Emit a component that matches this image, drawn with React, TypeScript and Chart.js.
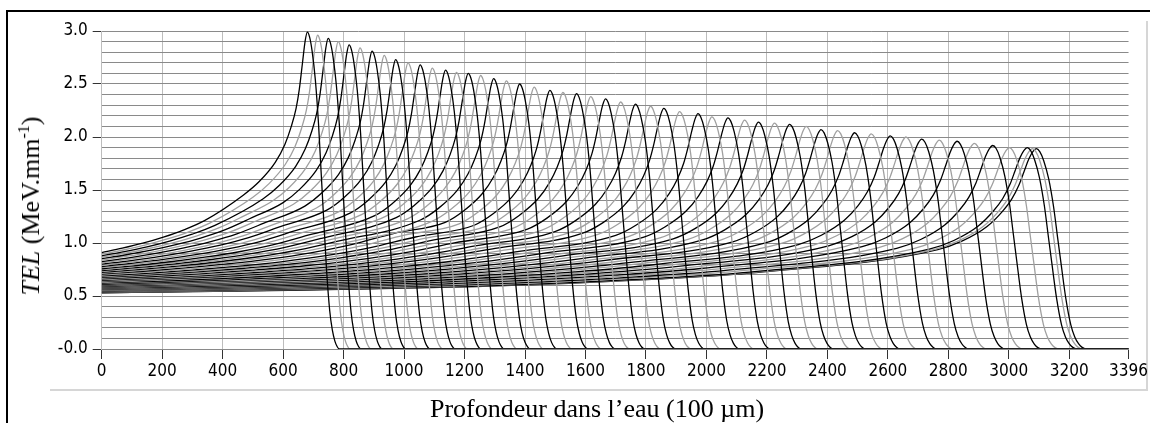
import React, { useEffect, useRef } from "react";
import { Chart, registerables } from "chart.js";

Chart.register(...registerables);

// Peak depth (100 µm units) of every TEL curve, in drawing order (black, grey, black, ...)
const PEAK_X = [680, 714, 749, 782, 818, 854, 894, 934, 972, 1013, 1053, 1093, 1137, 1173, 1212, 1253, 1296, 1338, 1382, 1430, 1482, 1525, 1570, 1617, 1666, 1716, 1765, 1815, 1859, 1911, 1972, 2018, 2071, 2126, 2172, 2225, 2275, 2330, 2379, 2434, 2490, 2545, 2608, 2660, 2712, 2770, 2829, 2886, 2947, 3002, 3061, 3078, 3091];
// Peak TEL value (MeV/mm)
const PEAK_Y = [2.99, 2.96, 2.93, 2.90, 2.87, 2.84, 2.81, 2.77, 2.73, 2.70, 2.68, 2.65, 2.63, 2.61, 2.60, 2.58, 2.55, 2.53, 2.50, 2.47, 2.44, 2.42, 2.41, 2.38, 2.36, 2.33, 2.31, 2.29, 2.27, 2.24, 2.22, 2.19, 2.18, 2.16, 2.14, 2.13, 2.12, 2.10, 2.07, 2.06, 2.04, 2.03, 2.01, 2.00, 1.98, 1.97, 1.96, 1.94, 1.92, 1.90, 1.90, 1.89, 1.89];
// TEL at the entrance (depth 0)
const ENTRY_Y = [0.910, 0.894, 0.879, 0.866, 0.852, 0.839, 0.825, 0.813, 0.801, 0.789, 0.778, 0.768, 0.757, 0.749, 0.740, 0.732, 0.723, 0.715, 0.707, 0.698, 0.689, 0.682, 0.675, 0.668, 0.661, 0.654, 0.647, 0.641, 0.636, 0.629, 0.622, 0.617, 0.611, 0.606, 0.601, 0.596, 0.591, 0.586, 0.582, 0.577, 0.572, 0.568, 0.563, 0.559, 0.555, 0.551, 0.547, 0.543, 0.539, 0.536, 0.532, 0.531, 0.530];
// Depth where each curve reaches zero
const ZERO_X = [786, 821, 857, 890, 927, 964, 1005, 1046, 1085, 1127, 1168, 1209, 1254, 1291, 1331, 1373, 1417, 1460, 1505, 1554, 1607, 1651, 1697, 1745, 1795, 1847, 1897, 1948, 1993, 2046, 2108, 2156, 2210, 2266, 2313, 2368, 2419, 2475, 2525, 2581, 2639, 2695, 2760, 2813, 2866, 2925, 2986, 3044, 3106, 3163, 3223, 3241, 3254];

const RISE_U = [0, 0.1, 0.2, 0.3, 0.4, 0.5, 0.6, 0.7, 0.8, 0.9];
const RISE_RATIO_SHALLOW = [1, 1.045, 1.097, 1.16, 1.236, 1.331, 1.457, 1.62, 1.9, 2.4];
const RISE_RATIO_DEEP = [1, 1.02, 1.045, 1.075, 1.11, 1.17, 1.25, 1.36, 1.49, 1.75];
const PEAK_S = [-2, -1.5, -1, -0.7, -0.5, -0.35, -0.25, -0.15, -0.07, 0];
const PEAK_F_SHALLOW = [0.26, 0.322, 0.409, 0.49, 0.572, 0.654, 0.74, 0.861, 0.957, 1];
const PEAK_F_DEEP = [0.3, 0.36, 0.46, 0.56, 0.65, 0.75, 0.84, 0.93, 0.98, 1];
const FALL_S = [0.07, 0.15, 0.25, 0.35, 0.43, 0.5, 0.6, 0.7, 0.78, 0.86, 0.93, 1];
const FALL_G = [0.985, 0.94, 0.85, 0.71, 0.56, 0.43, 0.25, 0.12, 0.06, 0.025, 0.008, 0];

const X_MAX = 3396;
const X_TICKS = [0, 200, 400, 600, 800, 1000, 1200, 1400, 1600, 1800, 2000, 2200, 2400, 2600, 2800, 3000, 3200, 3396];
const Y_TICK_LABELS = ["-0.0", "0.5", "1.0", "1.5", "2.0", "2.5", "3.0"];

const TICK_FONT = "'Liberation Sans Narrow', 'DejaVu Sans Condensed', 'Liberation Sans', sans-serif";
const SERIF = "'Liberation Serif', 'Times New Roman', 'DejaVu Serif', serif";

function buildCurve(i: number) {
  const P = PEAK_X[i];
  const H = PEAK_Y[i];
  const E = ENTRY_Y[i];
  const Z = ZERO_X[i];
  const T = Z - P;
  const P0 = PEAK_X[0];
  const PN = PEAK_X[PEAK_X.length - 1];
  const t = (P - P0) / (PN - P0);
  const pts: { x: number; y: number }[] = [];
  const cut = P - 2 * T - 0.12 * P;
  RISE_U.forEach((u, k) => {
    const x = u * P;
    if (x < cut) {
      const r = RISE_RATIO_SHALLOW[k] * (1 - t) + RISE_RATIO_DEEP[k] * t;
      pts.push({ x, y: E * r });
    }
  });
  PEAK_S.forEach((s, k) => {
    const f = PEAK_F_SHALLOW[k] * (1 - t) + PEAK_F_DEEP[k] * t;
    pts.push({ x: P + s * T, y: E + f * (H - E) });
  });
  FALL_S.forEach((s, k) => {
    pts.push({ x: P + s * T, y: H * FALL_G[k] });
  });
  if (Z < X_MAX) pts.push({ x: X_MAX, y: 0 });
  return pts;
}

export default function App() {
  const canvasRef = useRef<HTMLCanvasElement | null>(null);

  useEffect(() => {
    if (!canvasRef.current) return;
    const datasets = PEAK_X.map((_, i) => ({
      label: "curve " + (i + 1),
      data: buildCurve(i),
      borderColor: i % 2 === 0 ? "#000000" : "#a0a0a0",
      borderWidth: 1.3,
      pointRadius: 0,
      fill: false,
      cubicInterpolationMode: "monotone" as const,
    }));
    const chart = new Chart(canvasRef.current, {
      type: "line",
      data: { datasets },
      options: {
        responsive: false,
        animation: false,
        devicePixelRatio: 1,
        layout: { padding: { top: 31, right: 20, left: 0, bottom: 0 } },
        plugins: { legend: { display: false }, tooltip: { enabled: false } },
        scales: {
          x: {
            type: "linear",
            min: 0,
            max: X_MAX,
            afterBuildTicks: (s: any) => {
              s.ticks = X_TICKS.map((v) => ({ value: v }));
            },
            afterFit: (s: any) => {
              s.height = 74;
            },
            ticks: {
              autoSkip: false,
              maxRotation: 0,
              padding: 2,
              color: "#000",
              font: { family: TICK_FONT, size: 17 },
              callback: (v: any) => String(v),
            },
            grid: {
              color: (ctx: any) => (ctx.tick && ctx.tick.value === X_MAX ? "rgba(0,0,0,0)" : "#bdbdbd"),
              tickColor: "#333",
              tickLength: 10,
              lineWidth: 1,
            },
            border: { color: "#8a8a8a" },
          },
          y: {
            type: "linear",
            min: 0,
            max: 3,
            afterFit: (s: any) => {
              s.width = 101.7;
            },
            ticks: {
              stepSize: 0.1,
              maxTicksLimit: 100,
              autoSkip: false,
              padding: 5,
              color: "#000",
              font: { family: TICK_FONT, size: 17 },
              callback: (v: any) => {
                const k = Math.round(Number(v) * 10);
                return k % 5 === 0 ? Y_TICK_LABELS[k / 5] : "";
              },
            },
            grid: {
              color: "#8a8a8a",
              lineWidth: 1,
              tickLength: 9,
              tickColor: (ctx: any) => {
                const v = ctx.tick ? ctx.tick.value : 0.1;
                return Math.round(v * 10) % 5 === 0 ? "#333" : "rgba(0,0,0,0)";
              },
            },
            border: { color: "#bdbdbd" },
          },
        },
      },
    });
    return () => chart.destroy();
  }, []);

  return (
    <div style={{ position: "absolute", left: 0, top: 0, width: 1150, height: 423, background: "#fff", overflow: "hidden" }}>
      <div style={{ position: "absolute", left: 6, top: 10, width: 1150, height: 420, borderTop: "2px solid #000", borderLeft: "2px solid #000" }} />
      <div style={{ position: "absolute", left: 50, top: 389, width: 1098, height: 2, background: "#d6d6d6" }} />
      <div style={{ position: "absolute", left: 1146, top: 21, width: 2, height: 370, background: "#d6d6d6" }} />
      <canvas ref={canvasRef} width={1150} height={423} style={{ position: "absolute", left: 0, top: 0, width: 1150, height: 423 }} />
      <div
        style={{
          position: "absolute",
          left: 31,
          top: 206,
          transform: "translate(-50%, -50%) rotate(-90deg)",
          whiteSpace: "nowrap",
          fontFamily: SERIF,
          fontSize: 26,
          lineHeight: 1,
          color: "#000",
        }}
      >
        <i>TEL</i> (MeV.mm<sup style={{ fontSize: 16, lineHeight: 0 }}>-1</sup>)
      </div>
      <div
        style={{
          position: "absolute",
          left: 597,
          top: 409,
          transform: "translate(-50%, -50%)",
          whiteSpace: "nowrap",
          fontFamily: SERIF,
          fontSize: 26,
          lineHeight: 1,
          color: "#000",
        }}
      >
        Profondeur dans l’eau (100 µm)
      </div>
    </div>
  );
}
